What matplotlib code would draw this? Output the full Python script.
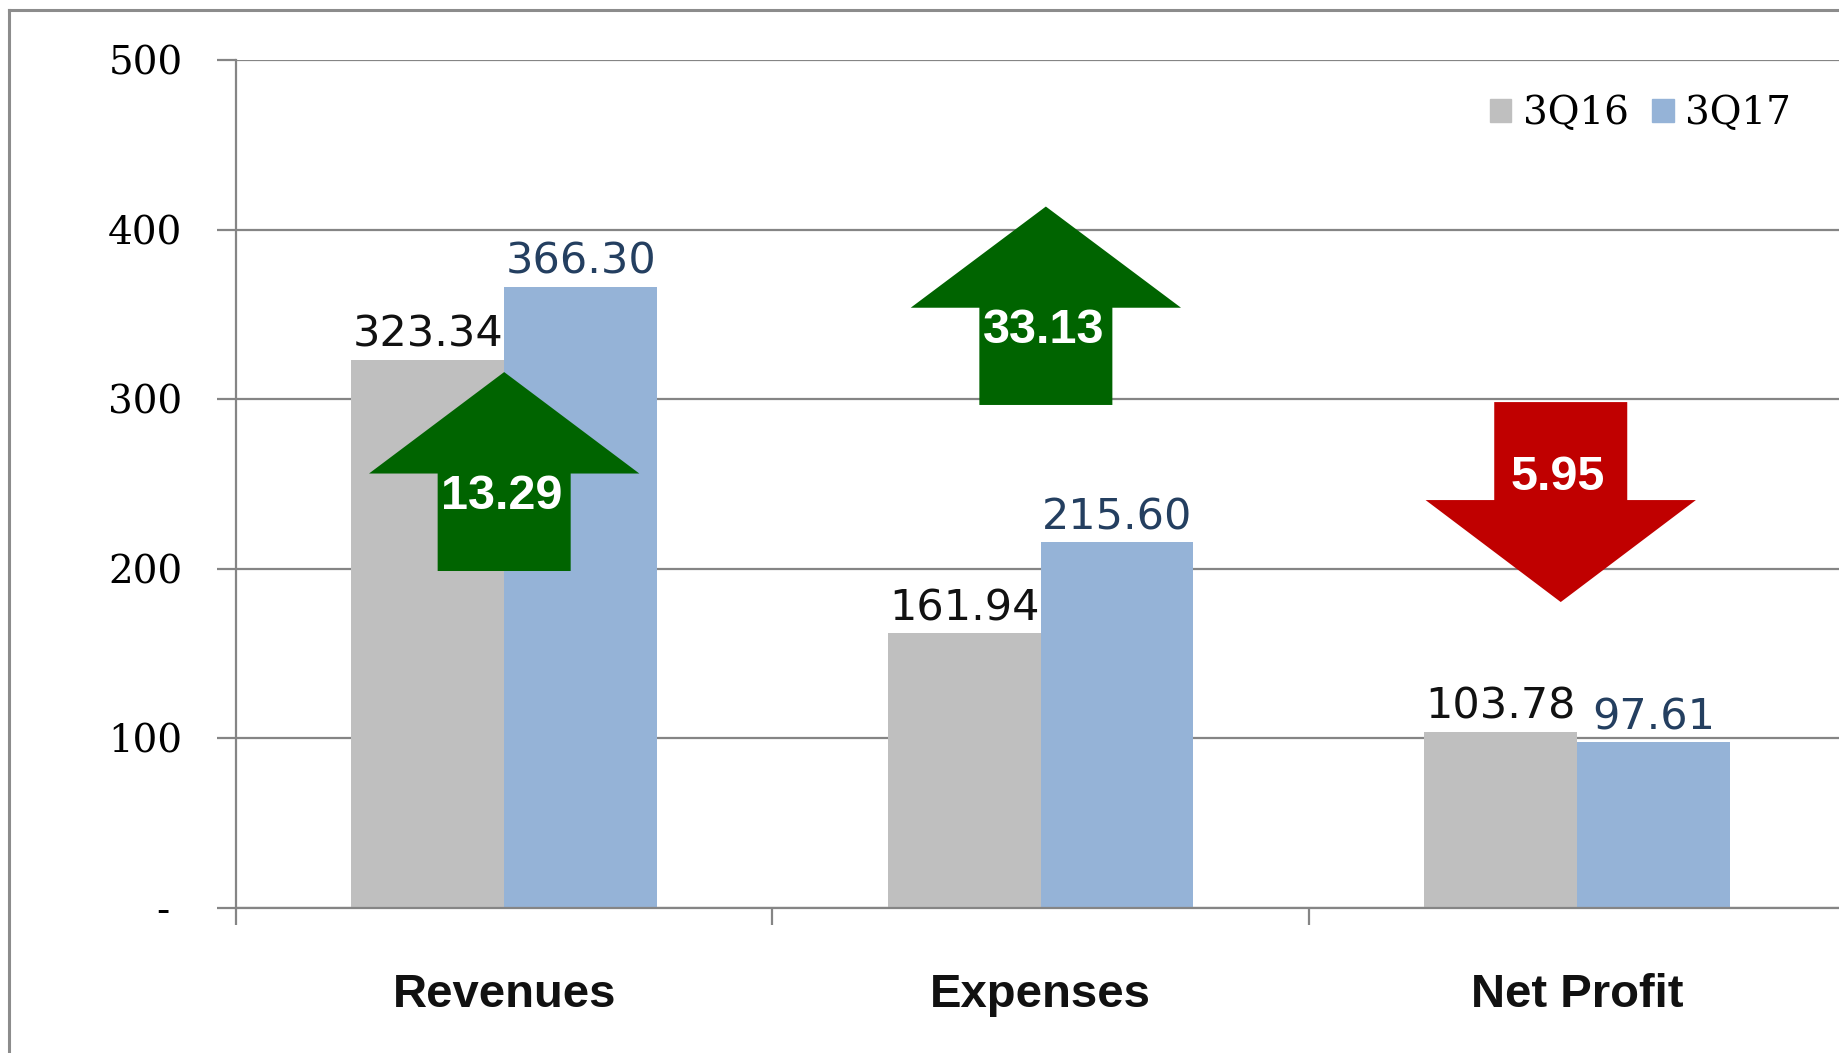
import numpy as np
import matplotlib
matplotlib.use('Agg')
import matplotlib.pyplot as plt
from matplotlib.patches import Polygon, Patch
from matplotlib.lines import Line2D

categories = ['Revenues', 'Expenses', 'Net Profit']
q3_16 = [323.34, 161.94, 103.78]
q3_17 = [366.30, 215.60, 97.61]
changes = [13.29, 33.13, -5.95]
yticks = [0, 100, 200, 300, 400, 500]
ytick_labels = ['- ', '100', '200', '300', '400', '500']

# arrow layout (data units): x center, tail y, tip y
arrow_x = [0.0, 1.01, 1.97]
arrow_tail = [198.7, 296.6, 298.3]
arrow_tip = [316.0, 413.6, 180.4]

grey = '#BFBFBF'
blue = '#95B3D7'
gridc = '#858585'

fig = plt.figure(figsize=(18.4, 10.53), dpi=100)
ax = fig.add_axes([236/1840, 1-908/1053, 1609/1840, 848/1053])

x = np.arange(len(categories))
w = 0.285
b1 = ax.bar(x - w/2, q3_16, w, color=grey, zorder=2)
b2 = ax.bar(x + w/2, q3_17, w, color=blue, zorder=2)

ax.set_xlim(-0.5, 2.5)
ax.set_ylim(0, 500)

for s in ['top', 'right']:
    ax.spines[s].set_visible(False)
for s in ['left', 'bottom']:
    ax.spines[s].set_color(gridc)
    ax.spines[s].set_linewidth(1.6)

ax.set_yticks(yticks)
ax.set_yticklabels(ytick_labels, family='DejaVu Serif', fontsize=28)
ax.tick_params(axis='y', length=13.5, width=1.6, color=gridc, pad=25)
ax.set_xticks([-0.5, 0.5, 1.5, 2.5])
ax.set_xticklabels([])
ax.tick_params(axis='x', length=12, width=1.6, color=gridc)
ax.yaxis.grid(True, color=gridc, linewidth=1.6, zorder=0)
ax.set_axisbelow(True)

# category labels
for i, c in enumerate(categories):
    ax.text(i, -0.1026, c, transform=ax.get_xaxis_transform(), ha='center', va='center',
            family='Liberation Sans', fontweight='bold', fontsize=34, color='#111111')

# value labels
for bars, vals, col in [(b1, q3_16, '#111111'), (b2, q3_17, '#243F60')]:
    for r, v in zip(bars, vals):
        ax.annotate('%.2f' % v, (r.get_x() + r.get_width()/2, v), xytext=(0, 3),
                    textcoords='offset points', ha='center', va='bottom',
                    family='DejaVu Sans', fontsize=31, color=col, zorder=5)

# change arrows
hw, sw = 0.252, 0.124
for xc, tail, tip, ch in zip(arrow_x, arrow_tail, arrow_tip, changes):
    col = '#006400' if ch > 0 else '#C00000'
    base = tail + (tip - tail) * 0.49
    pts = [(xc - sw, tail), (xc + sw, tail), (xc + sw, base), (xc + hw, base),
           (xc, tip), (xc - hw, base), (xc - sw, base)]
    ax.add_patch(Polygon(pts, closed=True, facecolor=col, edgecolor='none', zorder=6))
    ty = base - 13.5 if ch > 0 else base + 13.5
    ax.text(xc - 0.005, ty, '%.2f' % abs(ch), ha='center', va='center', color='white',
            family='Liberation Sans', fontweight='bold', fontsize=35, zorder=7)

leg = ax.legend([Patch(color=grey), Patch(color=blue)], ['3Q16', '3Q17'],
                loc='center left', bbox_to_anchor=(1490/1840, 1-114/1053),
                bbox_transform=fig.transFigure, ncol=2, frameon=False,
                prop={'family': 'DejaVu Serif', 'size': 28},
                handlelength=0.55, handleheight=0.55, handletextpad=0.3,
                columnspacing=0.6, borderpad=0, borderaxespad=0)

# outer chart frame (left and top visible)
fig.add_artist(Line2D([9/1840, 9/1840], [0, 1-10/1053], color='#8C8C8C', linewidth=2.2))
fig.add_artist(Line2D([9/1840, 1], [1-10/1053, 1-10/1053], color='#8C8C8C', linewidth=2.2))

fig.savefig('out.png', dpi=100)
